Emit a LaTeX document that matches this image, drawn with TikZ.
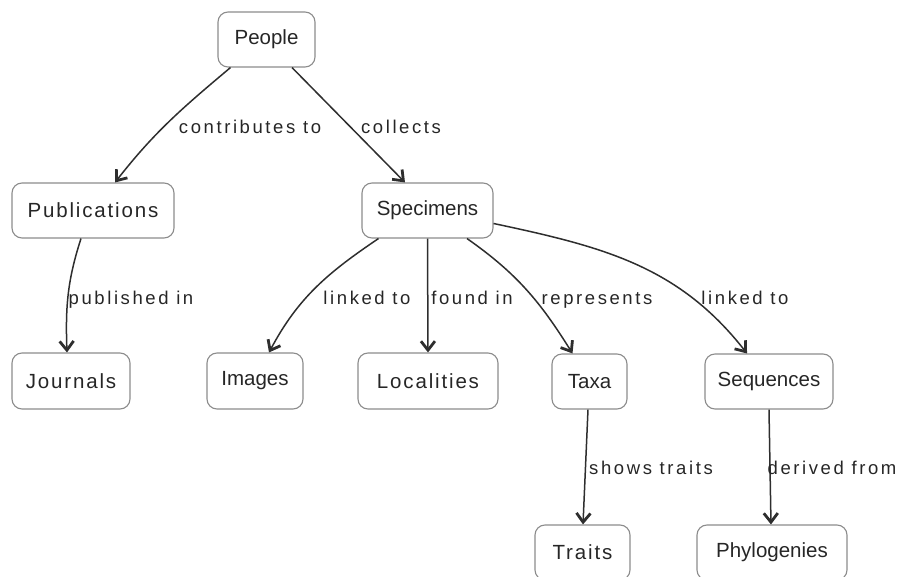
\documentclass[tikz,border=0pt]{standalone}
\usepackage{fontspec}
\setmainfont{Liberation Sans}
\newfontfamily\spacedfont[LetterSpace=9]{Liberation Sans}
\newfontfamily\labelfont[LetterSpace=14]{Liberation Sans}
\usetikzlibrary{arrows.meta}
\definecolor{boxline}{HTML}{8C8C8C}
\definecolor{ink}{HTML}{262626}
\definecolor{edgeink}{HTML}{2E2E2E}
\tikzset{
  concept/.style={draw=boxline, line width=1.1pt, rounded corners=10pt,
    minimum height=55pt, inner sep=0pt, text=ink,
    font=\fontsize{20.5}{24}\selectfont},
  wide/.style={font=\spacedfont\fontsize{20.5}{24}\selectfont},
  rel/.style={draw=edgeink, line width=1.5pt,
    -{Straight Barb[length=9pt,width=14pt,line width=2.8pt]}},
  lbl/.style={anchor=base, text=ink, inner sep=0pt,
    font=\labelfont\fontsize{18.5}{22}\selectfont}
}
\begin{document}
\begin{tikzpicture}[x=1pt,y=-1pt]
\useasboundingbox (0,0) rectangle (898,577);

% concept boxes
\node[concept, minimum width=97pt]  (people) at (266.5,39.5) {People};
\node[concept, wide, minimum width=162pt] (pub) at (93,210.5) {Publications};
\node[concept, minimum width=131pt] (spec) at (427.5,210.5) {Specimens};
\node[concept, wide, minimum width=118pt, minimum height=56pt] (jour) at (71,381) {Journals};
\node[concept, minimum width=96pt, minimum height=56pt] (img) at (255,381) {Images};
\node[concept, wide, minimum width=140pt, minimum height=56pt] (loc) at (428,381) {Localities};
\node[concept, minimum width=75pt] (taxa) at (589.5,381.5) {Taxa};
\node[concept, minimum width=128pt] (seq) at (769,381.5) {Sequences};
\node[concept, wide, minimum width=95pt] (traits) at (582.5,552.5) {Traits};
\node[concept, minimum width=150pt] (phylo) at (772,552.5) {Phylogenies};

% relations
\draw[rel] ([xshift=-36pt]people.south) to[out=-140,in=52] ([xshift=22pt]pub.north);
\draw[rel] ([xshift=25.5pt]people.south) -- ([xshift=-22.5pt]spec.north);
\draw[rel] ([xshift=-12pt]pub.south) to[out=-108,in=92] ([xshift=-4pt]jour.north);
\draw[rel] ([xshift=-49pt]spec.south) to[out=-146,in=62] ([xshift=14pt]img.north);
\draw[rel] (spec.south) -- (loc.north);
\draw[rel] ([xshift=39.5pt]spec.south) to[out=-35,in=122] ([xshift=-17pt]taxa.north);
\draw[rel] ([yshift=-13pt]spec.east) to[out=-12,in=128] ([xshift=-22pt]seq.north);
\draw[rel] ([xshift=-1.5pt]taxa.south) -- ([xshift=0.5pt]traits.north);
\draw[rel] (seq.south) -- ([xshift=-1pt]phylo.north);

% relation labels
\node[lbl] (l1) at (250,134) {contributes to};
\node[lbl] (l2) at (401,134) {collects};
\node[lbl] (l3) at (131,305) {published in};
\node[lbl] (l4) at (367,305) {linked to};
\node[lbl] (l5) at (472,305) {found in};
\node[lbl] (l6) at (597,305) {represents};
\node[lbl] (l7) at (745,305) {linked to};
\node[lbl] (l8) at (651,475) {shows traits};
\node[lbl] (l9) at (832,475) {derived from};
\end{tikzpicture}
\end{document}
